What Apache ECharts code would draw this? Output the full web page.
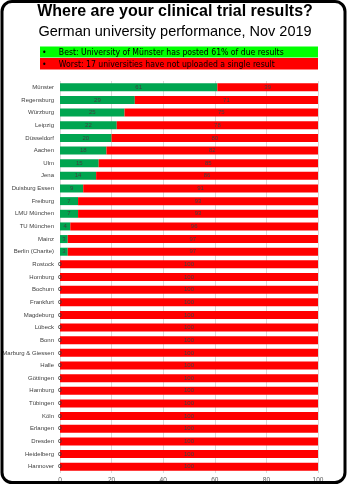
<!DOCTYPE html>
<html>
<head>
<meta charset="utf-8">
<script src="https://cdn.jsdelivr.net/npm/echarts@6/dist/echarts.min.js"></script>
<style>
  html, body { margin: 0; padding: 0; background: #fff; }
  #chart { width: 350px; height: 487px; }
</style>
</head>
<body>
<div id="chart"></div>
<script>
// universities, top to bottom
const universities = [
    'Münster', 'Regensburg', 'Würzburg', 'Leipzig', 'Düsseldorf', 'Aachen', 'Ulm', 'Jena',
    'Duisburg Essen', 'Freiburg', 'LMU München', 'TU München', 'Mainz', 'Berlin (Charite)',
    'Rostock', 'Homburg', 'Bochum', 'Frankfurt', 'Magdeburg', 'Lübeck', 'Bonn',
    'Marburg & Giessen', 'Halle', 'Göttingen', 'Hamburg', 'Tübingen', 'Köln', 'Erlangen',
    'Dresden', 'Heidelberg', 'Hannover'
];
// % of due results posted
const posted = [61, 29, 25, 22, 20, 18, 15, 14, 9, 7, 7, 4, 3, 3,
    0, 0, 0, 0, 0, 0, 0, 0, 0, 0, 0, 0, 0, 0, 0, 0, 0];
// % missing
const missing = [39, 71, 75, 78, 80, 82, 85, 86, 91, 93, 93, 96, 97, 97,
    100, 100, 100, 100, 100, 100, 100, 100, 100, 100, 100, 100, 100, 100, 100, 100, 100];
const xTicks = [0, 20, 40, 60, 80, 100];

const chart = echarts.init(document.getElementById('chart'));

const labelStyle = {
    show: true,
    position: 'inside',
    fontSize: 6,
    color: '#404040',
    fontFamily: 'Liberation Sans'
};

// zero-width bars get no label from the bar series, so mark them separately
const zeroPoints = posted.map((v, i) => v === 0 ? [v, universities[i]] : null).filter(p => p);

const option = {
    animation: false,
    backgroundColor: '#fff',
    grid: { left: 60, right: 32, top: 81, bottom: 14, outerBoundsMode: 'none' },
    xAxis: {
        type: 'value',
        min: xTicks[0],
        max: xTicks[xTicks.length - 1],
        interval: 20,
        axisLine: { show: false },
        axisTick: { show: false },
        splitLine: { lineStyle: { color: '#d9d9d9', width: 1 } },
        axisLabel: { fontSize: 6.5, color: '#595959', margin: 4, fontFamily: 'Liberation Sans' }
    },
    yAxis: {
        type: 'category',
        inverse: true,
        data: universities,
        axisLine: { show: false },
        axisTick: { show: false },
        axisLabel: { fontSize: 6, color: '#404040', margin: 6, fontFamily: 'Liberation Sans' }
    },
    series: [
        {
            name: 'posted',
            type: 'bar',
            stack: 'all',
            barWidth: 8,
            data: posted,
            itemStyle: { color: '#00a550' },
            label: labelStyle
        },
        {
            name: 'missing',
            type: 'bar',
            stack: 'all',
            barWidth: 8,
            data: missing,
            itemStyle: { color: '#ff0000' },
            label: labelStyle
        },
        {
            name: 'zero',
            type: 'scatter',
            symbolSize: 0,
            data: zeroPoints,
            z: 5,
            label: {
                show: true,
                position: 'inside',
                formatter: p => String(p.value[0]),
                fontSize: 6,
                color: '#404040',
                fontFamily: 'Liberation Sans'
            }
        }
    ],
    graphic: [
        {
            type: 'rect',
            shape: { x: 2, y: 1.5, width: 343, height: 481, r: 10 },
            style: { fill: 'none', stroke: '#000', lineWidth: 3 },
            z: 100
        },
        {
            type: 'text', left: 'center', top: 4,
            style: {
                text: 'Where are your clinical trial results?',
                font: 'bold 16px "Liberation Sans"', fill: '#000'
            }
        },
        {
            type: 'text', left: 'center', top: 24,
            style: {
                text: 'German university performance, Nov 2019',
                font: '14.5px "Liberation Sans"', fill: '#000'
            }
        },
        { type: 'rect', shape: { x: 40, y: 46.5, width: 278, height: 11 }, style: { fill: '#00ff00' } },
        { type: 'rect', shape: { x: 40, y: 58, width: 278, height: 11.5 }, style: { fill: '#ff0000' } },
        {
            type: 'text', left: 42, top: 48,
            style: {
                text: '•     Best: University of Münster has posted 61% of due results',
                font: '8.6px "DejaVu Sans Condensed"', fill: '#000'
            }
        },
        {
            type: 'text', left: 42, top: 60,
            style: {
                text: '•     Worst: 17 universities have not uploaded a single result',
                font: '8.6px "DejaVu Sans Condensed"', fill: '#000'
            }
        }
    ]
};

chart.setOption(option);
</script>
</body>
</html>
